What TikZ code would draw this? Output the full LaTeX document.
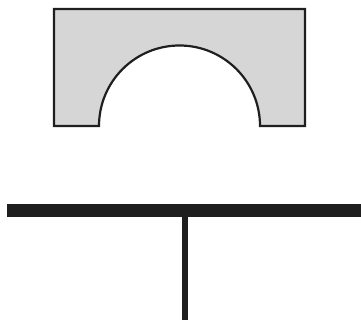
\documentclass[tikz,border=0pt]{standalone}
\begin{document}
\begin{tikzpicture}[x=1pt,y=-1pt,
  ink/.style={draw=black!88, line width=2.2pt, line join=miter},
  block/.style={ink, fill=black!16},
  bar/.style={fill=black!88}]
\useasboundingbox (0,0) rectangle (361,320);
\path[block] (54,9) -- (305,9) -- (305,126) -- (260,126)
  arc[start angle=0, end angle=-180, radius=80.5] -- (54,126) -- cycle;
\coordinate (barL) at (7,204);
\coordinate (barR) at (361,217);
\fill[bar] (barL) rectangle (barR);
\coordinate (stemT) at (182,217);
\coordinate (stemB) at (188,320);
\fill[bar] (stemT) rectangle (stemB);
\end{tikzpicture}
\end{document}
